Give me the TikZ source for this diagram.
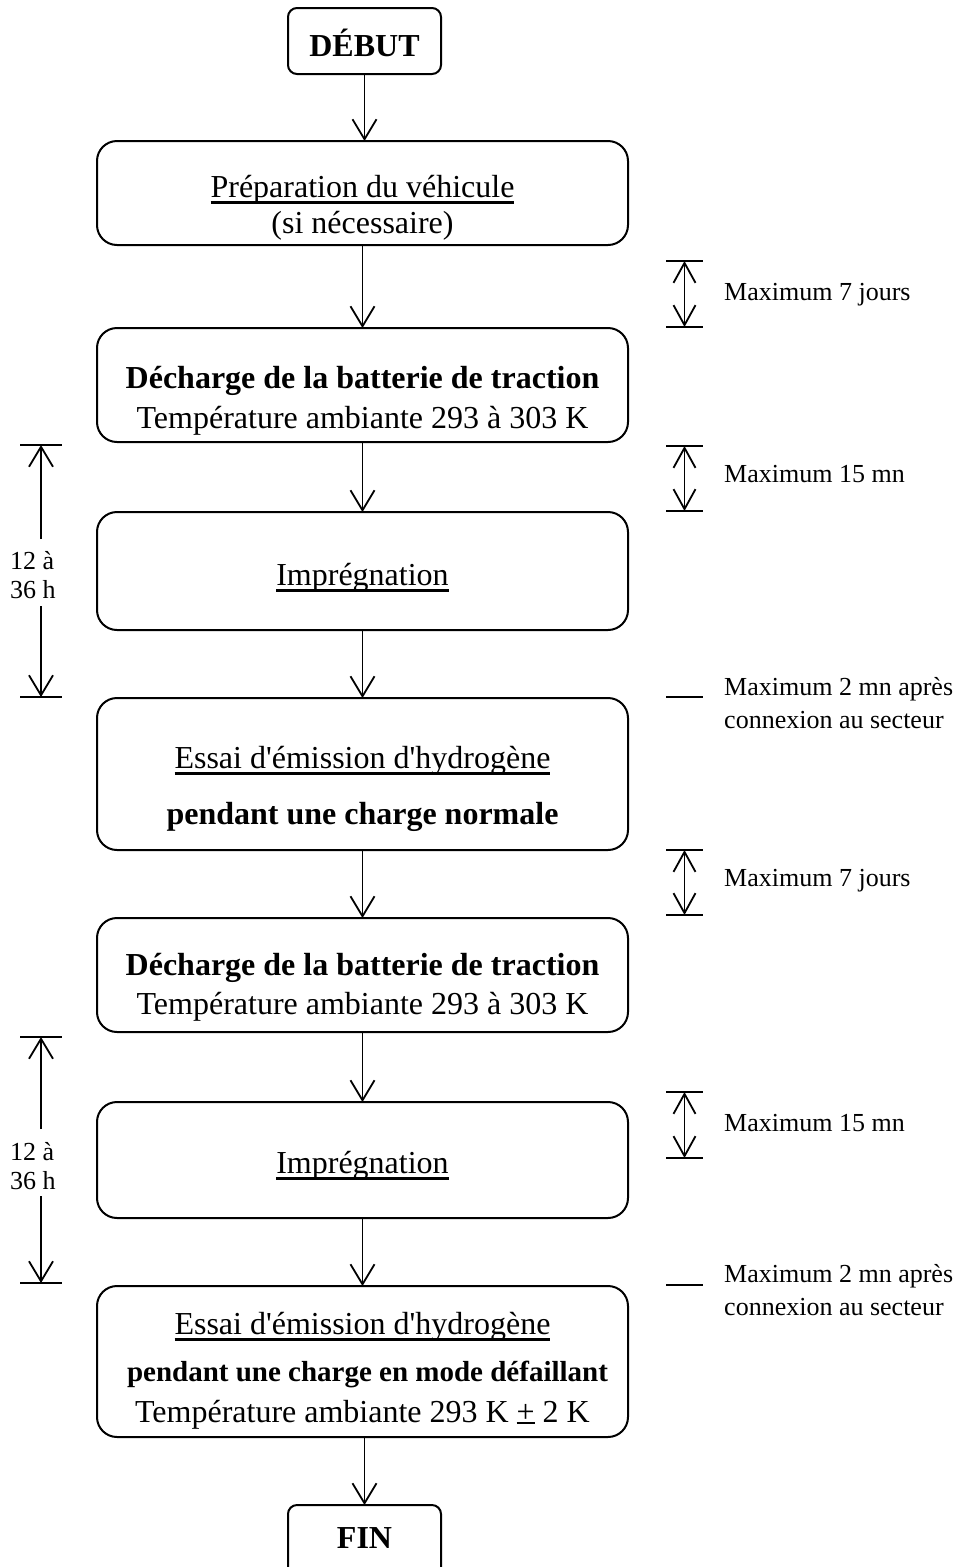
\documentclass[tikz,border=0pt]{standalone}
\usepackage{fontspec}
\setmainfont{Liberation Serif}
\usetikzlibrary{arrows.meta}
\newcommand\ulx[1]{\setbox0=\hbox{#1}\rlap{\rule[-6.5pt]{\wd0}{2.4pt}}\box0}
\newcommand\ulp[1]{\setbox0=\hbox{#1}\rlap{\rule[-2pt]{\wd0}{2.4pt}}\box0}
\newcommand\apos{\textquotesingle}
\begin{document}
\begin{tikzpicture}[x=1pt,y=-1pt,
  box/.style={draw, line width=2pt, rounded corners=20pt, inner sep=0pt, outer sep=0pt, minimum width=531pt},
  sbox/.style={draw, line width=2pt, rounded corners=9pt, inner sep=0pt, outer sep=0pt, minimum width=153pt},
  big/.style={font=\fontsize{32}{38}\selectfont, inner sep=0pt, anchor=base},
  small/.style={font=\fontsize{26}{33}\selectfont, inner sep=0pt, anchor=base west},
  flow/.style={line width=1.8pt, -{Straight Barb[length=20pt,width=24pt]}},
  dimline/.style={line width=1.8pt, {Straight Barb[length=20pt,width=22pt]}-{Straight Barb[length=20pt,width=22pt]}},
  tick/.style={line width=2pt}]
\useasboundingbox (0,0) rectangle (962,1567);
\clip (0,0) rectangle (962,1567);

% ---- main boxes ----
\node[sbox, minimum height=66pt] (start) at (364.5,41) {};
\node[big] (startt) at (364.5,56) {\bfseries DÉBUT};

\node[box, minimum height=104pt] (b1) at (362.5,193) {};
\node[big] (b1a) at (362.5,197) {\ulx{Préparation du véhicule}};
\node[big] (b1b) at (362.5,233) {(si nécessaire)};

\node[box, minimum height=114pt] (b2) at (362.5,385) {};
\node[big] (b2a) at (362.5,388) {\bfseries Décharge de la batterie de traction};
\node[big] (b2b) at (362.5,428) {Température ambiante 293 à 303 K};

\node[box, minimum height=118pt] (b3) at (362.5,571) {};
\node[big] (b3a) at (362.5,585) {\ulx{Imprégnation}};

\node[box, minimum height=152pt] (b4) at (362.5,774) {};
\node[big] (b4a) at (362.5,768) {\ulx{Essai d\apos émission d\apos hydrogène}};
\node[big] (b4b) at (362.5,824) {\bfseries pendant une charge normale};

\node[box, minimum height=114pt] (b5) at (362.5,975) {};
\node[big] (b5a) at (362.5,975) {\bfseries Décharge de la batterie de traction};
\node[big] (b5b) at (362.5,1014) {Température ambiante 293 à 303 K};

\node[box, minimum height=116pt] (b6) at (362.5,1160) {};
\node[big] (b6a) at (362.5,1173) {\ulx{Imprégnation}};

\node[box, minimum height=151pt] (b7) at (362.5,1361.5) {};
\node[big] (b7a) at (362.5,1334) {\ulx{Essai d\apos émission d\apos hydrogène}};
\node[big, font=\fontsize{29}{35}\selectfont] (b7b) at (367.5,1381) {\bfseries pendant une charge en mode défaillant};
\node[big] (b7c) at (362.5,1422) {Température ambiante 293 K\hspace{0.25em}\ulp{+}\hspace{0.25em}2 K};

\node[sbox, minimum height=110pt] (fin) at (364.5,1560) {};
\node[big] (fint) at (364.5,1548) {\bfseries FIN};

% ---- flow arrows ----
\draw[flow] (start.south) -- (start.south |- b1.north);
\draw[flow] (b1.south) -- (b2.north);
\draw[flow] (b2.south) -- (b3.north);
\draw[flow] (b3.south) -- (b4.north);
\draw[flow] (b4.south) -- (b5.north);
\draw[flow] (b5.south) -- (b6.north);
\draw[flow] (b6.south) -- (b7.north);
\draw[flow] (b7.south -| fin.north) -- (fin.north);

% ---- right-hand time markers ----
\coordinate (r1t) at (684.5,261); \coordinate (r1b) at (684.5,327);
\draw[tick] (666,261) -- (703,261); \draw[tick] (666,327) -- (703,327);
\draw[dimline] (r1t) -- (r1b);
\node[small] (r1l) at (724,300) {Maximum 7 jours};

\coordinate (r2t) at (684.5,446); \coordinate (r2b) at (684.5,511);
\draw[tick] (666,446) -- (703,446); \draw[tick] (666,511) -- (703,511);
\draw[dimline] (r2t) -- (r2b);
\node[small] (r2l) at (724,482) {Maximum 15 mn};

\draw[tick] (666,697) -- (703,697);
\node[small] (r3a) at (724,695) {Maximum 2 mn après};
\node[small] (r3b) at (724,728) {connexion au secteur};

\coordinate (r4t) at (684.5,850); \coordinate (r4b) at (684.5,915);
\draw[tick] (666,850) -- (703,850); \draw[tick] (666,915) -- (703,915);
\draw[dimline] (r4t) -- (r4b);
\node[small] (r4l) at (724,886) {Maximum 7 jours};

\coordinate (r5t) at (684.5,1092); \coordinate (r5b) at (684.5,1158);
\draw[tick] (666,1092) -- (703,1092); \draw[tick] (666,1158) -- (703,1158);
\draw[dimline] (r5t) -- (r5b);
\node[small] (r5l) at (724,1131) {Maximum 15 mn};

\draw[tick] (666,1285) -- (703,1285);
\node[small] (r6a) at (724,1282) {Maximum 2 mn après};
\node[small] (r6b) at (724,1315) {connexion au secteur};

% ---- left-hand markers ----
\draw[tick] (20,445) -- (62,445); \draw[tick] (20,697) -- (62,697);
\coordinate (l1t) at (41,445); \coordinate (l1b) at (41,697);
\coordinate (l1g1) at (41,539); \coordinate (l1g2) at (41,606);
\draw[flow] (l1g1) -- (l1t);
\draw[flow] (l1g2) -- (l1b);
\node[small] (l1a) at (10,569) {12 à};
\node[small] (l1c) at (10,598) {36 h};

\draw[tick] (20,1037) -- (62,1037); \draw[tick] (20,1283) -- (62,1283);
\coordinate (l2t) at (41,1037); \coordinate (l2b) at (41,1283);
\coordinate (l2g1) at (41,1129); \coordinate (l2g2) at (41,1196);
\draw[flow] (l2g1) -- (l2t);
\draw[flow] (l2g2) -- (l2b);
\node[small] (l2a) at (10,1160) {12 à};
\node[small] (l2c) at (10,1189) {36 h};
\end{tikzpicture}
\end{document}
